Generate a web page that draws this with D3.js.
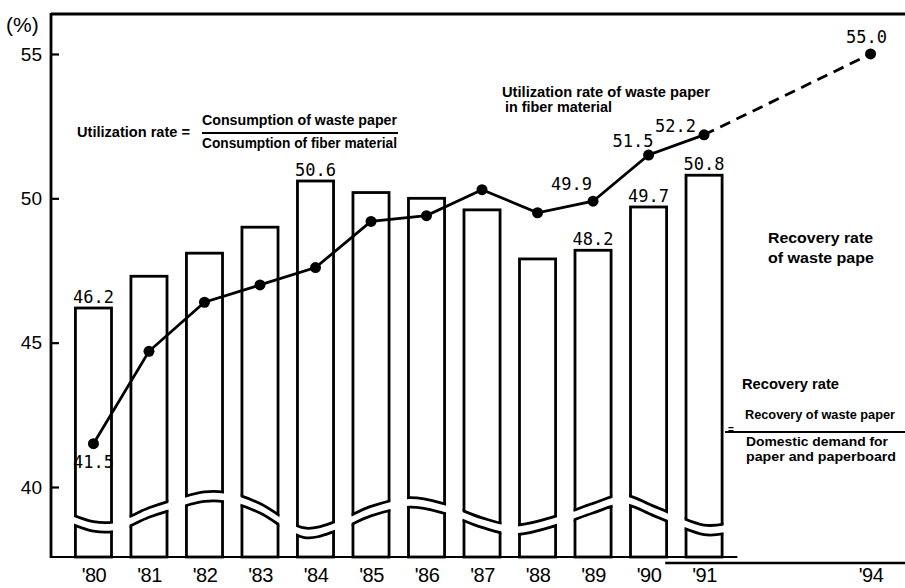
<!DOCTYPE html>
<html><head><meta charset="utf-8">
<script src="https://cdn.jsdelivr.net/npm/d3@7/dist/d3.min.js"></script>
<style>body{margin:0;background:#fff}svg{display:block}</style>
</head><body>
<svg id="c" width="905" height="588"></svg>
<script>
// ---------- data ----------
const barYears = [1980,1981,1982,1983,1984,1985,1986,1987,1988,1989,1990,1991];
const recoveryRate = [46.2,47.3,48.1,49.0,50.6,50.2,50.0,49.6,47.9,48.2,49.7,50.8];
const recoveryLabelYears = [1980,1984,1989,1990,1991];

const lineYears = [1980,1981,1982,1983,1984,1985,1986,1987,1988,1989,1990,1991,1994];
const utilizationRate = [41.5,44.7,46.4,47.0,47.6,49.2,49.4,50.3,49.5,49.9,51.5,52.2,55.0];
const utilLabelYears = [1980,1989,1990,1991,1994];
const forecastFrom = 1991;

const xTickYears = [1980,1981,1982,1983,1984,1985,1986,1987,1988,1989,1990,1991,1994];
const xTickLabels = ["'80","'81","'82","'83","'84","'85","'86","'87","'88","'89","'90","'91","'94"];
const yTicks = [40,45,50,55];

// axis-break wave (upper edge), [year, value]
const breakWave = [[1979.5,39.13],[1980.0,38.8],[1980.4,38.8],[1981.0,39.28],[1981.4,39.53],[1982.0,39.83],
  [1982.5,39.78],[1983.0,39.43],[1983.8,38.58],[1984.4,38.83],[1985.0,39.33],[1985.7,39.63],[1986.3,39.43],
  [1987.0,38.93],[1987.6,38.68],[1988.4,39.03],[1989.0,39.43],[1989.55,39.73],[1990.1,39.33],[1991.0,38.68],[1991.4,38.73]];

// ---------- chart ----------
const svg = d3.select('#c');
const x = d3.scaleLinear().domain([1979.235, 1994.62]).range([51, 905]);
const y = d3.scaleLinear().domain([37.575, 56.385]).range([557, 14]);
const barW = x(1980.65) - x(1980);
const SW = 2.8;
const gap = 0.33;

const defs = svg.append('defs');

// bars
const bars = svg.append('g');
barYears.forEach((yr, i) => {
  const x0 = x(yr) - barW/2, x1 = x(yr) + barW/2;
  bars.append('rect')
    .attr('x', x0).attr('y', y(recoveryRate[i]))
    .attr('width', barW).attr('height', y.range()[0] - y(recoveryRate[i]))
    .attr('fill', '#fff').attr('stroke', '#000').attr('stroke-width', SW);
  const cid = 'clipA' + i, cid2 = 'clipB' + i;
  defs.append('clipPath').attr('id', cid).append('rect')
    .attr('x', x0 - 3).attr('y', 0).attr('width', barW + 6).attr('height', 588);
  defs.append('clipPath').attr('id', cid2).append('rect')
    .attr('x', x0 - SW/2).attr('y', 0).attr('width', barW + SW).attr('height', 588);
  const area = d3.area().x(d => x(d[0])).y0(d => y(d[1] - gap)).y1(d => y(d[1])).curve(d3.curveCatmullRom);
  bars.append('path').attr('d', area(breakWave)).attr('fill', '#fff')
    .attr('clip-path', `url(#${cid})`);
  const up = d3.line().x(d => x(d[0])).y(d => y(d[1])).curve(d3.curveCatmullRom);
  const lo = d3.line().x(d => x(d[0])).y(d => y(d[1] - gap)).curve(d3.curveCatmullRom);
  [up, lo].forEach(fn => bars.append('path').attr('d', fn(breakWave)).attr('fill', 'none')
    .attr('stroke', '#000').attr('stroke-width', SW).attr('clip-path', `url(#${cid2})`));
});

// bar labels
svg.append('g').selectAll('text').data(recoveryLabelYears).join('text')
  .attr('x', d => x(d))
  .attr('y', d => y(recoveryRate[barYears.indexOf(d)]) - 5)
  .attr('text-anchor', 'middle')
  .attr('font-family', 'DejaVu Sans Mono').attr('font-size', 17)
  .text(d => recoveryRate[barYears.indexOf(d)].toFixed(1));

// frame / axes
svg.append('line').attr('x1', x.range()[0]).attr('x2', x.range()[1]).attr('y1', 14).attr('y2', 14)
  .attr('stroke', '#000').attr('stroke-width', 2.8);
svg.append('line').attr('x1', x.range()[0]).attr('x2', x.range()[0]).attr('y1', 13).attr('y2', 558)
  .attr('stroke', '#000').attr('stroke-width', 2.8);
svg.append('line').attr('x1', x.range()[0]).attr('x2', x(1991.6)).attr('y1', 557).attr('y2', 557)
  .attr('stroke', '#000').attr('stroke-width', 2.2);
svg.append('line').attr('x1', x(1990.3)).attr('x2', x.range()[1]).attr('y1', 563).attr('y2', 563)
  .attr('stroke', '#000').attr('stroke-width', 2.4);

const yAxis = svg.append('g').attr('transform', `translate(${x.range()[0]},0)`)
  .call(d3.axisLeft(y).tickValues(yTicks).tickSize(-8).tickPadding(9));
yAxis.select('.domain').remove();
yAxis.selectAll('line').attr('stroke-width', 2.2);
yAxis.selectAll('text').attr('font-family', 'Liberation Sans').attr('font-size', 19).attr('fill', '#000');

svg.append('text').attr('x', 6).attr('y', 32).attr('font-family', 'Liberation Sans')
  .attr('font-size', 21).text('(%)');

const xAxis = svg.append('g').attr('transform', 'translate(0,557)')
  .call(d3.axisBottom(x).tickValues(xTickYears).tickSize(0).tickPadding(11)
    .tickFormat(d => xTickLabels[xTickYears.indexOf(d)]));
xAxis.select('.domain').remove();
xAxis.selectAll('text').attr('font-family', 'Liberation Sans').attr('font-size', 20)
  .attr('letter-spacing', -0.5).attr('fill', '#000');

// utilization line
const pts = lineYears.map((yr, i) => [yr, utilizationRate[i]]);
const ln = d3.line().x(d => x(d[0])).y(d => y(d[1]));
svg.append('path').attr('d', ln(pts.filter(d => d[0] <= forecastFrom)))
  .attr('fill', 'none').attr('stroke', '#000').attr('stroke-width', 2.8);
svg.append('path').attr('d', ln(pts.filter(d => d[0] >= forecastFrom)))
  .attr('fill', 'none').attr('stroke', '#000').attr('stroke-width', 2.8).attr('stroke-dasharray', '11,7');
svg.append('g').selectAll('circle').data(pts).join('circle')
  .attr('cx', d => x(d[0])).attr('cy', d => y(d[1])).attr('r', 5.5).attr('fill', '#000');

const utilLabelPlace = {1980:{dx:0,dy:24,a:'middle'},1989:{dx:-1,dy:-11,a:'end'},1990:{dx:5,dy:-8,a:'end'},
  1991:{dx:-8,dy:-3,a:'end'},1994:{dx:-4,dy:-11,a:'middle'}};
svg.append('g').selectAll('text').data(utilLabelYears).join('text')
  .attr('x', d => x(d) + utilLabelPlace[d].dx)
  .attr('y', d => y(utilizationRate[lineYears.indexOf(d)]) + utilLabelPlace[d].dy)
  .attr('text-anchor', d => utilLabelPlace[d].a)
  .attr('font-family', 'DejaVu Sans Mono').attr('font-size', 17)
  .text(d => utilizationRate[lineYears.indexOf(d)].toFixed(1));

// annotations
const notes = [
  {t:'Utilization rate =', x:77, y:137, w:113, s:14.5},
  {t:'Consumption of waste paper', x:202, y:125, w:195, s:14.5},
  {t:'Consumption of fiber material', x:202, y:148, w:195, s:14.5},
  {t:'Utilization rate of waste paper', x:502, y:97, w:208, s:14.5},
  {t:'in fiber material', x:505, y:112, w:107, s:14.5},
  {t:'Recovery rate', x:768, y:243, w:105, s:14.5},
  {t:'of waste pape', x:768, y:263, w:106, s:14.5},
  {t:'Recovery rate', x:742, y:389, w:97, s:14.5},
  {t:'Recovery of waste paper', x:745, y:419, w:150, s:13},
  {t:'Domestic demand for', x:746, y:446, w:142, s:13},
  {t:'paper and paperboard', x:746, y:461, w:150, s:13}
];
svg.append('g').selectAll('text').data(notes).join('text')
  .attr('x', d => d.x).attr('y', d => d.y)
  .attr('font-family', 'Liberation Sans').attr('font-weight', 'bold').attr('font-size', d => d.s)
  .attr('textLength', d => d.w).attr('lengthAdjust', 'spacingAndGlyphs')
  .text(d => d.t);
svg.append('line').attr('x1', 202).attr('x2', 398).attr('y1', 133).attr('y2', 133)
  .attr('stroke', '#000').attr('stroke-width', 2);
svg.append('line').attr('x1', 725).attr('x2', 905).attr('y1', 432).attr('y2', 432)
  .attr('stroke', '#000').attr('stroke-width', 2);
svg.append('text').attr('x', 728).attr('y', 433).attr('font-family', 'Liberation Sans')
  .attr('font-weight', 'bold').attr('font-size', 10).text('=');
</script>
</body></html>
